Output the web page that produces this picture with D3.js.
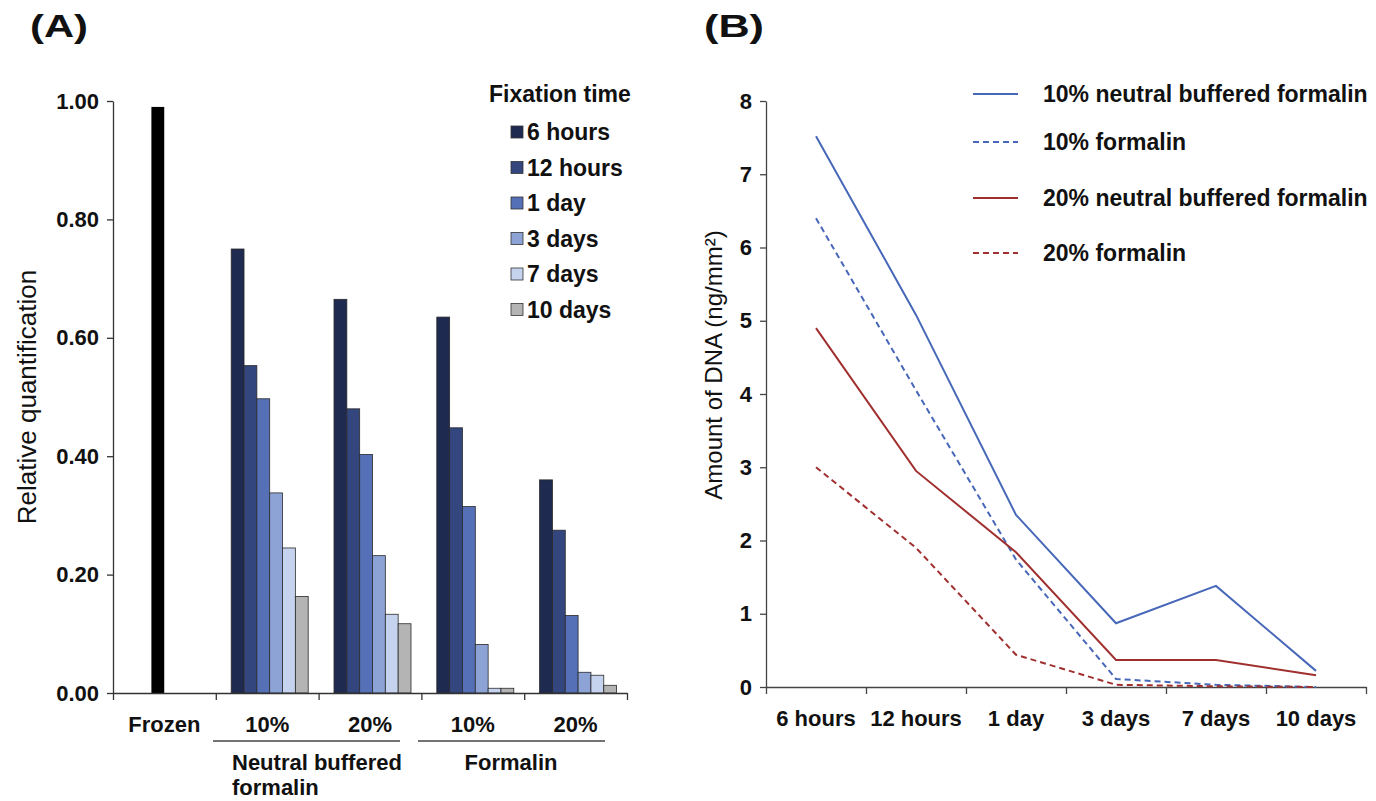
<!DOCTYPE html>
<meta charset="utf-8">
<script src="https://d3js.org/d3.v7.min.js"></script>
<style>
  body { margin: 0; background: #fff; }
  text { font-family: "Liberation Sans", Arial, sans-serif; fill: #111; }
</style>
<div id="chart"></div>
<script>
// ---- panel A data (relative quantification) ----
var groupKeys = ["frozen", "nbf10", "nbf20", "f10", "f20"];
var groupLabels = ["Frozen", "10%", "20%", "10%", "20%"];
var fixTimes = ["6 hours", "12 hours", "1 day", "3 days", "7 days", "10 days"];
var frozenValue = 0.99;
var nbf10 = [0.75, 0.553, 0.497, 0.338, 0.245, 0.163];
var nbf20 = [0.665, 0.48, 0.403, 0.232, 0.133, 0.117];
var f10 = [0.635, 0.448, 0.315, 0.082, 0.008, 0.008];
var f20 = [0.36, 0.275, 0.131, 0.035, 0.03, 0.013];
var barColors = ["#1e2a50", "#33467e", "#5570b6", "#8da3d6", "#c5d3ef", "#b4b4b4"];
var ticksA = [0, 0.2, 0.4, 0.6, 0.8, 1.0];

// ---- panel B data (amount of DNA) ----
var timesB = ["6 hours", "12 hours", "1 day", "3 days", "7 days", "10 days"];
var nbf10B = [7.52, 5.08, 2.35, 0.87, 1.38, 0.22];
var f10B = [6.4, 4.05, 1.74, 0.11, 0.03, 0.0];
var nbf20B = [4.9, 2.95, 1.84, 0.37, 0.37, 0.16];
var f20B = [3.0, 1.9, 0.44, 0.03, 0.01, 0.0];
var seriesNames = ["10% neutral buffered formalin", "10% formalin",
                   "20% neutral buffered formalin", "20% formalin"];
var ticksB = [0, 1, 2, 3, 4, 5, 6, 7, 8];

var W = 1376, H = 801;
var svg = d3.select("#chart").append("svg")
    .attr("width", W).attr("height", H);

var bold = function(sel, size) {
  return sel.style("font-weight", "bold").style("font-size", size + "px");
};

// ================= Panel A =================
var yA = d3.scaleLinear().domain([0, 1]).range([693, 101]);
var xA = d3.scaleBand().domain(groupKeys).range([113, 627]);
var xEdge = d3.scaleLinear().domain([0, 5]).range([113, 627]);
var xT = d3.scaleBand().domain(fixTimes).range([-36, 41]);

svg.append("text").attr("x", 30).attr("y", 37)
    .attr("textLength", 58).attr("lengthAdjust", "spacingAndGlyphs")
    .text("(A)").call(bold, 32);

var gA = svg.append("g");

// bars
var groupsData = [
  {key: "nbf10", vals: nbf10},
  {key: "nbf20", vals: nbf20},
  {key: "f10", vals: f10},
  {key: "f20", vals: f20}
];
var gg = gA.selectAll(".grp").data(groupsData).enter().append("g")
    .attr("transform", function(d) { return "translate(" + (xA(d.key) + xA.bandwidth() / 2) + ",0)"; });
gg.selectAll("rect")
    .data(function(d) { return d.vals.map(function(v, i) { return {t: fixTimes[i], v: v, i: i}; }); })
    .enter().append("rect")
    .attr("x", function(d) { return xT(d.t); })
    .attr("width", xT.bandwidth())
    .attr("y", function(d) { return yA(d.v); })
    .attr("height", function(d) { return yA(0) - yA(d.v); })
    .attr("fill", function(d) { return barColors[d.i]; })
    .attr("stroke", "#2a2a2a").attr("stroke-width", 0.8);

// frozen bar
gA.append("rect")
    .attr("x", xA("frozen") + xA.bandwidth() / 2 - 13)
    .attr("width", xT.bandwidth())
    .attr("y", yA(frozenValue))
    .attr("height", yA(0) - yA(frozenValue))
    .attr("fill", "#000");

// axes
var axA = gA.append("g").attr("transform", "translate(113,0)")
    .call(d3.axisLeft(yA).tickValues(ticksA).tickFormat(d3.format(".2f"))
          .tickSize(6).tickSizeOuter(0).tickPadding(8));
axA.selectAll("text").call(bold, 22);
gA.append("g").attr("transform", "translate(0,693)")
    .call(d3.axisBottom(xEdge).tickValues([0, 1, 2, 3, 4, 5]).tickFormat("")
          .tickSize(7).tickSizeOuter(0));
gA.selectAll(".domain, .tick line").attr("stroke", "#333").attr("stroke-width", 1.3);

// category labels
gA.selectAll(".cat").data(groupKeys).enter().append("text")
    .attr("x", function(d) { return xA(d) + xA.bandwidth() / 2; })
    .attr("y", 732).attr("text-anchor", "middle")
    .text(function(d, i) { return groupLabels[i]; })
    .call(bold, 22);

// group brackets
gA.append("line").attr("x1", 213).attr("x2", 400).attr("y1", 741).attr("y2", 741)
    .attr("stroke", "#444").attr("stroke-width", 1.5);
gA.append("line").attr("x1", 418).attr("x2", 605).attr("y1", 741).attr("y2", 741)
    .attr("stroke", "#444").attr("stroke-width", 1.5);
gA.append("text").attr("x", 232).attr("y", 770).text("Neutral buffered").call(bold, 22);
gA.append("text").attr("x", 232).attr("y", 795).text("formalin").call(bold, 22);
gA.append("text").attr("x", 511).attr("y", 770).attr("text-anchor", "middle")
    .text("Formalin").call(bold, 22);

// y label
gA.append("text")
    .attr("transform", "translate(36," + ((101 + 693) / 2) + ") rotate(-90)")
    .attr("text-anchor", "middle").style("font-size", "26px")
    .text("Relative quantification");

// legend
var legA = gA.append("g");
legA.append("text").attr("x", 489).attr("y", 102).text("Fixation time").call(bold, 23);
var li = legA.selectAll(".li").data(fixTimes).enter().append("g")
    .attr("transform", function(d, i) { return "translate(511," + (132 + i * 35.5) + ")"; });
li.append("rect").attr("x", 0).attr("y", -6).attr("width", 12).attr("height", 12)
    .attr("fill", function(d, i) { return barColors[i]; })
    .attr("stroke", "#333").attr("stroke-width", 0.8);
li.append("text").attr("x", 16).attr("y", 8).text(function(d) { return d; }).call(bold, 23);

// ================= Panel B =================
var yB = d3.scaleLinear().domain([0, 8]).range([687, 101]);
var xB = d3.scaleBand().domain(timesB).range([766, 1366]);
var xEdgeB = d3.scaleLinear().domain([0, 6]).range([766, 1366]);

svg.append("text").attr("x", 704).attr("y", 37)
    .attr("textLength", 60).attr("lengthAdjust", "spacingAndGlyphs")
    .text("(B)").call(bold, 32);

var gB = svg.append("g");
var axB = gB.append("g").attr("transform", "translate(766,0)")
    .call(d3.axisLeft(yB).tickValues(ticksB).tickFormat(d3.format("d"))
          .tickSize(6).tickSizeOuter(0).tickPadding(8));
axB.selectAll("text").call(bold, 22);
gB.append("g").attr("transform", "translate(0,687)")
    .call(d3.axisBottom(xEdgeB).tickValues([0, 1, 2, 3, 4, 5, 6]).tickFormat("")
          .tickSize(7).tickSizeOuter(0));
gB.selectAll(".domain, .tick line").attr("stroke", "#444").attr("stroke-width", 1.3);

gB.selectAll(".tl").data(timesB).enter().append("text")
    .attr("x", function(d) { return xB(d) + xB.bandwidth() / 2; })
    .attr("y", 726).attr("text-anchor", "middle")
    .text(function(d) { return d; }).call(bold, 22);

gB.append("text")
    .attr("transform", "translate(722,365) rotate(-90)")
    .attr("text-anchor", "middle").style("font-size", "24px")
    .text("Amount of DNA (ng/mm\u00B2)");

var blue = "#4767b8", red = "#a0302f";
var seriesB = [
  {name: seriesNames[0], vals: nbf10B, color: blue, dash: null},
  {name: seriesNames[1], vals: f10B, color: blue, dash: "6,4"},
  {name: seriesNames[2], vals: nbf20B, color: red, dash: null},
  {name: seriesNames[3], vals: f20B, color: red, dash: "6,4"}
];
var line = d3.line()
    .x(function(d, i) { return xB(timesB[i]) + xB.bandwidth() / 2; })
    .y(function(d) { return yB(d); });
gB.selectAll(".ln").data(seriesB).enter().append("path")
    .attr("d", function(d) { return line(d.vals); })
    .attr("fill", "none")
    .attr("stroke", function(d) { return d.color; })
    .attr("stroke-width", 2)
    .attr("stroke-dasharray", function(d) { return d.dash; });

var legYs = [94, 142, 198, 253];
var lg = gB.selectAll(".lg").data(seriesB).enter().append("g")
    .attr("transform", function(d, i) { return "translate(973," + legYs[i] + ")"; });
lg.append("line").attr("x1", 0).attr("x2", 45).attr("y1", 0).attr("y2", 0)
    .attr("stroke", function(d) { return d.color; }).attr("stroke-width", 2)
    .attr("stroke-dasharray", function(d) { return d.dash; });
lg.append("text").attr("x", 70).attr("y", 8).text(function(d) { return d.name; }).call(bold, 23);
</script>
